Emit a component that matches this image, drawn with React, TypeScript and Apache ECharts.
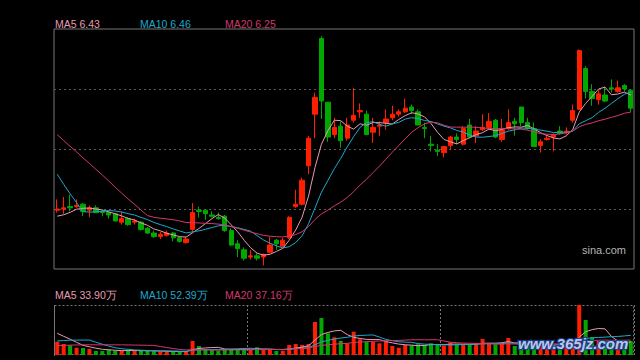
import React, { useEffect, useRef } from "react";
import * as echarts from "echarts";

// ---- data ----
const priorCloses = [6.45, 6.42, 6.40, 6.44, 6.38, 6.41, 6.36, 6.40, 6.39, 6.35, 6.30, 6.25, 6.22, 6.18, 5.50, 5.40, 5.36, 5.35, 5.39];
const priorVolumes = [13.3, 10.6, 11.9, 13.3, 10.6, 13.3, 11.9, 11.9, 13.3, 11.9, 15.9, 18.6, 15.9, 17.2, 15.9, 68.9, 63.6, 61.0, 58.8];

const openPrices = [5.44, 5.45, 5.47, 5.47, 5.49, 5.44, 5.46, 5.43, 5.42, 5.41,
  5.34, 5.37, 5.34, 5.34, 5.29, 5.25, 5.22, 5.23, 5.25, 5.21,
  5.17, 5.28, 5.44, 5.44, 5.40, 5.38, 5.39, 5.27, 5.16, 5.11,
  5.05, 5.06, 5.05, 5.09, 5.19, 5.14, 5.21, 5.47, 5.49, 5.81,
  6.24, 6.87, 6.34, 6.07, 6.14, 6.04, 6.19, 6.26, 6.24, 6.09,
  6.14, 6.17, 6.21, 6.24, 6.26, 6.30, 6.26, 6.13, 5.99, 5.94,
  5.92, 5.98, 6.05, 5.99, 6.15, 6.06, 6.11, 6.13, 6.19, 6.03,
  6.12, 6.18, 6.30, 6.17, 6.12, 5.98, 6.03, 6.05, 6.10, 6.09,
  6.19, 6.28, 6.62, 6.43, 6.36, 6.40, 6.46, 6.43, 6.48, 6.44];

const closePrices = [5.45, 5.46, 5.46, 5.48, 5.43, 5.46, 5.42, 5.42, 5.40, 5.35,
  5.37, 5.32, 5.35, 5.28, 5.25, 5.22, 5.24, 5.25, 5.21, 5.18,
  5.20, 5.42, 5.43, 5.41, 5.39, 5.37, 5.27, 5.15, 5.12, 5.04,
  5.06, 5.04, 5.07, 5.15, 5.16, 5.19, 5.38, 5.49, 5.69, 6.04,
  6.38, 6.35, 6.05, 6.13, 6.02, 6.15, 6.23, 6.27, 6.07, 6.13,
  6.15, 6.20, 6.24, 6.26, 6.29, 6.27, 6.15, 6.12, 5.98, 5.93,
  5.97, 6.05, 6.03, 6.12, 6.05, 6.10, 6.13, 6.18, 6.05, 6.11,
  6.17, 6.16, 6.17, 6.12, 5.97, 6.01, 6.04, 6.07, 6.08, 6.10,
  6.27, 6.77, 6.43, 6.37, 6.41, 6.35, 6.45, 6.46, 6.45, 6.29];

const lowPrices = [5.42, 5.41, 5.43, 5.46, 5.39, 5.38, 5.42, 5.39, 5.37, 5.35,
  5.32, 5.31, 5.32, 5.27, 5.24, 5.21, 5.20, 5.22, 5.18, 5.17,
  5.16, 5.26, 5.38, 5.36, 5.38, 5.36, 5.26, 5.14, 5.05, 5.02,
  5.03, 5.02, 4.98, 5.08, 5.11, 5.13, 5.20, 5.46, 5.48, 5.74,
  6.04, 6.20, 6.01, 6.04, 5.96, 6.02, 6.17, 6.21, 6.07, 6.00,
  6.06, 6.11, 6.19, 6.22, 6.25, 6.24, 6.15, 6.04, 5.93, 5.89,
  5.88, 5.94, 5.99, 5.98, 6.04, 6.00, 6.10, 6.12, 6.04, 6.01,
  6.11, 6.06, 6.14, 6.11, 5.97, 5.92, 6.02, 5.93, 6.07, 6.07,
  6.17, 6.28, 6.37, 6.31, 6.32, 6.34, 6.42, 6.42, 6.43, 6.26];

const highPrices = [5.53, 5.55, 5.57, 5.53, 5.50, 5.48, 5.48, 5.44, 5.43, 5.41,
  5.43, 5.38, 5.37, 5.35, 5.30, 5.27, 5.26, 5.27, 5.26, 5.22,
  5.22, 5.50, 5.47, 5.44, 5.43, 5.42, 5.40, 5.29, 5.19, 5.13,
  5.11, 5.08, 5.08, 5.22, 5.20, 5.21, 5.39, 5.61, 5.71, 6.06,
  6.42, 6.89, 6.34, 6.21, 6.18, 6.21, 6.46, 6.33, 6.27, 6.21,
  6.18, 6.28, 6.31, 6.28, 6.37, 6.32, 6.28, 6.17, 6.06, 5.99,
  5.97, 6.06, 6.08, 6.14, 6.20, 6.14, 6.24, 6.25, 6.20, 6.20,
  6.28, 6.21, 6.30, 6.21, 6.17, 6.03, 6.06, 6.08, 6.14, 6.13,
  6.32, 6.78, 6.64, 6.49, 6.44, 6.47, 6.53, 6.52, 6.49, 6.44];

// volume, in 万
const volumes = [35.2, 29.2, 25.7, 19.3, 18.6, 15.9, 10.6, 10.6, 14.0, 11.4,
  11.4, 11.4, 11.4, 11.4, 10.6, 9.8, 8.7, 9.8, 8.7, 8.0,
  8.7, 37.1, 23.9, 15.9, 13.3, 11.4, 15.1, 16.7, 15.9, 15.9,
  13.3, 20.4, 13.3, 15.1, 10.6, 10.6, 26.5, 29.2, 26.5, 29.2,
  87.5, 98.1, 57.5, 46.9, 37.1, 31.0, 61.7, 41.6, 35.2, 35.2,
  31.0, 35.2, 23.9, 19.3, 26.5, 25.7, 28.4, 26.5, 31.0, 27.3,
  24.6, 33.7, 28.4, 28.4, 26.5, 28.4, 42.4, 31.0, 28.4, 31.0,
  45.1, 23.9, 31.8, 23.9, 31.8, 26.5, 21.2, 23.9, 18.6, 21.2,
  42.4, 132.5, 92.8, 46.9, 37.1, 37.1, 31.8, 31.8, 31.8, 37.1];

const categories = closePrices.map((_, i) => "D" + (i + 1));
const monthBreaks = [30, 60];

const maLabels = ["MA5 6.43", "MA10 6.46", "MA20 6.25"];
const volMaLabels = ["MA5 33.90万", "MA10 52.39万", "MA20 37.16万"];

// ---- styles ----
const RED = "#ff1e00";
const GREEN = "#00a800";
const MA_COLORS = ["#e99ab0", "#1ea8cc", "#d3376f"];
const FONT = "'Liberation Sans', Arial, sans-serif";

function movingAvg(prior: number[], vals: number[], n: number): number[] {
  const all = prior.concat(vals);
  const off = prior.length;
  return vals.map((_, i) => {
    let s = 0;
    for (let k = off + i - n + 1; k <= off + i; k++) s += all[k];
    return +(s / n).toFixed(4);
  });
}

export default function App() {
  const ref = useRef<HTMLDivElement>(null);
  useEffect(() => {
    if (!ref.current) return;
    const chart = echarts.init(ref.current, undefined, { renderer: "svg" });
    const periods = [5, 10, 20];
    const candleData = openPrices.map((o, i) => [o, closePrices[i], lowPrices[i], highPrices[i]]);
    const volData = volumes.map((v, i) => ({
      value: v,
      itemStyle: { color: closePrices[i] >= openPrices[i] ? RED : GREEN },
    }));
    const maSeries = periods.map((p, k) => ({
      type: "line",
      name: "MA" + p,
      xAxisIndex: 0,
      yAxisIndex: 0,
      data: movingAvg(priorCloses, closePrices, p),
      symbol: "none",
      lineStyle: { width: 1, color: MA_COLORS[k] },
      z: 3,
    }));
    const volMaSeries = periods.map((p, k) => ({
      type: "line",
      name: "VMA" + p,
      xAxisIndex: 1,
      yAxisIndex: 1,
      data: movingAvg(priorVolumes, volumes, p),
      symbol: "none",
      lineStyle: { width: 1, color: MA_COLORS[k] },
      z: 3,
    }));
    const legendXs = [55, 140, 225];
    const graphic: any[] = [];
    maLabels.forEach((t, k) => {
      graphic.push({
        type: "text", x: legendXs[k], y: 24,
        style: { text: t, fill: MA_COLORS[k], fontSize: 10.5, fontFamily: FONT, verticalAlign: "middle" },
      });
    });
    volMaLabels.forEach((t, k) => {
      graphic.push({
        type: "text", x: legendXs[k], y: 295,
        style: { text: t, fill: MA_COLORS[k], fontSize: 10.5, fontFamily: FONT, verticalAlign: "middle" },
      });
    });
    graphic.push({
      type: "text", x: 582, y: 250,
      style: { text: "sina.com", fill: "#b4b4b4", fontSize: 11, fontFamily: FONT, verticalAlign: "middle" },
    });
    graphic.push({
      type: "rect", shape: { x: 54.5, y: 305.5, width: 579, height: 49 },
      style: { fill: "none", stroke: "#777", lineWidth: 1, lineDash: [2, 2] }, z: 1,
    });
    graphic.push({
      type: "line", shape: { x1: 54.5, y1: 305, x2: 54.5, y2: 356 },
      style: { stroke: "#777", lineWidth: 1 }, z: 1,
    });
    graphic.push({
      type: "text", x: 518, y: 343, z: 100,
      style: {
        text: "www.365jz.com", fill: "#c9d6f2", stroke: "#1d3f8c", lineWidth: 2.5,
        fontSize: 15, fontWeight: "bold", fontStyle: "italic", fontFamily: FONT, verticalAlign: "middle",
        opacity: 0.92,
      },
    });

    chart.setOption({
      animation: false,
      backgroundColor: "#000",
      grid: [
        { left: 54, width: 580, top: 29, height: 240, show: true, borderColor: "#777", borderWidth: 1 },
        { left: 54, width: 580, top: 305, height: 50, show: false },
      ],
      xAxis: [
        {
          type: "category", gridIndex: 0, data: categories, boundaryGap: true,
          axisLine: { show: false }, axisTick: { show: false }, axisLabel: { show: false }, splitLine: { show: false },
        },
        {
          type: "category", gridIndex: 1, data: categories, boundaryGap: true,
          axisLine: { show: false }, axisTick: { show: false }, axisLabel: { show: false },
          splitLine: {
            show: true,
            interval: (idx: number) => monthBreaks.indexOf(idx) >= 0,
            lineStyle: { color: "#777", type: [2, 2], width: 1 },
          },
        },
      ],
      yAxis: [
        {
          type: "value", gridIndex: 0, min: 4.95, max: 6.95, interval: 0.5,
          axisLine: { show: false }, axisTick: { show: false }, axisLabel: { show: false },
          splitLine: { show: true, showMinLine: false, showMaxLine: false, lineStyle: { color: "#5a5a5a", type: [2, 3], width: 1 } },
        },
        {
          type: "value", gridIndex: 1, min: 0, max: "dataMax",
          axisLine: { show: false }, axisTick: { show: false }, axisLabel: { show: false }, splitLine: { show: false },
        },
      ],
      series: [
        {
          type: "candlestick", xAxisIndex: 0, yAxisIndex: 0, data: candleData, barWidth: "74%",
          itemStyle: { color: RED, color0: GREEN, borderColor: RED, borderColor0: GREEN, borderWidth: 1 },
          z: 2,
        },
        ...maSeries,
        {
          type: "bar", xAxisIndex: 1, yAxisIndex: 1, data: volData, barWidth: 4, z: 2,
        },
        ...volMaSeries,
      ],
      graphic,
    });
    return () => chart.dispose();
  }, []);
  return <div ref={ref} style={{ width: 640, height: 360, position: "absolute", left: 0, top: 0 }} />;
}
